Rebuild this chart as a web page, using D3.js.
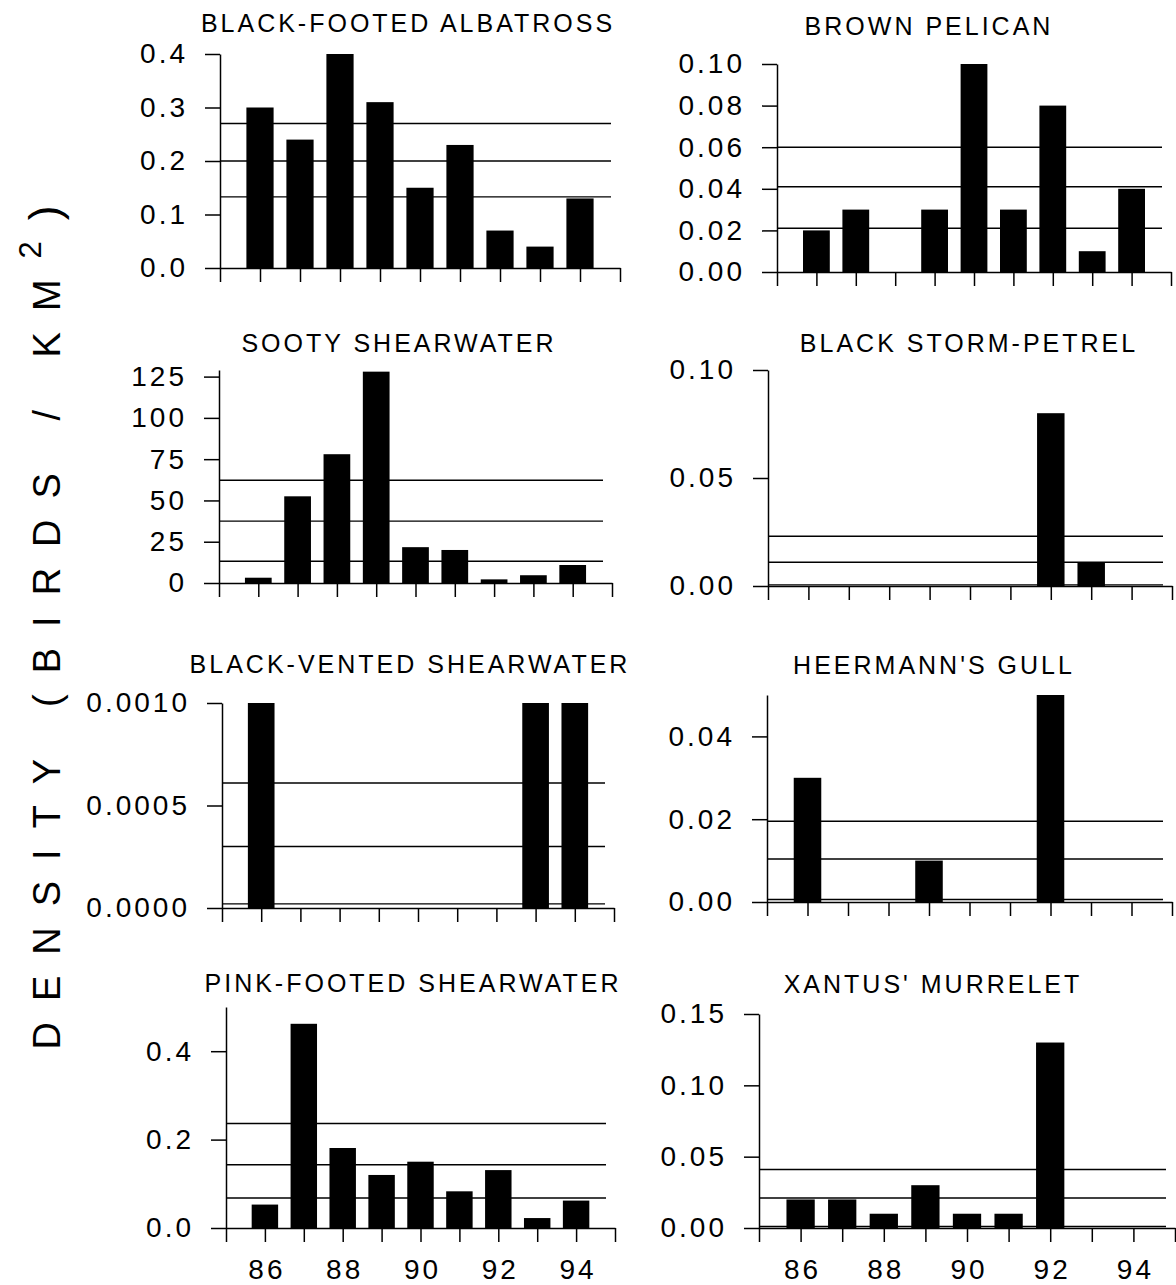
<!DOCTYPE html>
<html>
<head>
<meta charset="utf-8">
<script src="https://cdn.jsdelivr.net/npm/d3@7"></script>
<style>
  body { margin: 0; background: #fff; }
  svg { display: block; font-family: 'Liberation Sans', Arial, sans-serif; }
</style>
</head>
<body>
<script>
const WIDTH = 1176;
const HEIGHT = 1285;

// survey years (bars) and x ticks
const YEARS = [86, 87, 88, 89, 90, 91, 92, 93, 94];
const X_TICKS = [85, 86, 87, 88, 89, 90, 91, 92, 93, 94, 95];
const X_LABELS = [86, 88, 90, 92, 94];

// densities per year
const ALBATROSS = [0.30, 0.24, 0.40, 0.31, 0.15, 0.23, 0.07, 0.04, 0.13];
const PELICAN = [0.02, 0.03, 0.0, 0.03, 0.10, 0.03, 0.08, 0.01, 0.04];
const SOOTY = [3.2, 52.5, 78, 128, 21.7, 20, 2.2, 4.7, 10.9];
const STORM_PETREL = [0, 0, 0, 0, 0, 0, 0.08, 0.011, 0];
const BLACK_VENTED = [0.001, 0, 0, 0, 0, 0, 0, 0.001, 0.001];
const HEERMANN = [0.03, 0, 0, 0.01, 0, 0, 0.05, 0, 0];
const PINK_FOOTED = [0.053, 0.462, 0.181, 0.12, 0.15, 0.083, 0.131, 0.0225, 0.062];
const XANTUS = [0.02, 0.02, 0.01, 0.03, 0.01, 0.01, 0.13, 0, 0];

// horizontal reference lines
const ALBATROSS_REF = [0.27, 0.2, 0.133];
const PELICAN_REF = [0.06, 0.041, 0.021];
const SOOTY_REF = [62.2, 37.5, 13.2];
const STORM_PETREL_REF = [0.023, 0.011, 0.0005];
const BLACK_VENTED_REF = [0.00061, 0.0003, 0.00002];
const HEERMANN_REF = [0.0195, 0.0104, 0.0006];
const PINK_FOOTED_REF = [0.2365, 0.143, 0.068];
const XANTUS_REF = [0.041, 0.021, 0.001];

// y tick values
const ALBATROSS_TICKS = [0, 0.1, 0.2, 0.3, 0.4];
const PELICAN_TICKS = [0, 0.02, 0.04, 0.06, 0.08, 0.1];
const SOOTY_TICKS = [0, 25, 50, 75, 100, 125];
const STORM_PETREL_TICKS = [0, 0.05, 0.1];
const BLACK_VENTED_TICKS = [0, 0.0005, 0.001];
const HEERMANN_TICKS = [0, 0.02, 0.04];
const PINK_FOOTED_TICKS = [0, 0.2, 0.4];
const XANTUS_TICKS = [0, 0.05, 0.1, 0.15];

const panels = [
  {title: 'BLACK-FOOTED ALBATROSS', values: ALBATROSS, refs: ALBATROSS_REF, ticks: ALBATROSS_TICKS, yMax: 0.4, fmt: '.1f',
    x0: 220, x1: 620, yTop: 54, yBase: 268, tx: 408, ty: 32},
  {title: 'BROWN PELICAN', values: PELICAN, refs: PELICAN_REF, ticks: PELICAN_TICKS, yMax: 0.1, fmt: '.2f',
    x0: 777, x1: 1171, yTop: 64, yBase: 272, tx: 929, ty: 35},
  {title: 'SOOTY SHEARWATER', values: SOOTY, refs: SOOTY_REF, ticks: SOOTY_TICKS, yMax: 129, fmt: 'd',
    x0: 219, x1: 612, yTop: 370, yBase: 583, tx: 399, ty: 352},
  {title: 'BLACK STORM-PETREL', values: STORM_PETREL, refs: STORM_PETREL_REF, ticks: STORM_PETREL_TICKS, yMax: 0.1, fmt: '.2f',
    x0: 768, x1: 1172, yTop: 370, yBase: 586, tx: 969, ty: 352},
  {title: 'BLACK-VENTED SHEARWATER', values: BLACK_VENTED, refs: BLACK_VENTED_REF, ticks: BLACK_VENTED_TICKS, yMax: 0.001, fmt: '.4f',
    x0: 222, x1: 614, yTop: 703, yBase: 908, tx: 410, ty: 673},
  {title: "HEERMANN'S GULL", values: HEERMANN, refs: HEERMANN_REF, ticks: HEERMANN_TICKS, yMax: 0.05, fmt: '.2f',
    x0: 767, x1: 1172, yTop: 695, yBase: 902, tx: 934, ty: 674},
  {title: 'PINK-FOOTED SHEARWATER', values: PINK_FOOTED, refs: PINK_FOOTED_REF, ticks: PINK_FOOTED_TICKS, yMax: 0.5, fmt: '.1f',
    x0: 226, x1: 615, yTop: 1007, yBase: 1228, tx: 413, ty: 992, labels: true},
  {title: "XANTUS' MURRELET", values: XANTUS, refs: XANTUS_REF, ticks: XANTUS_TICKS, yMax: 0.15, fmt: '.2f',
    x0: 759, x1: 1175, yTop: 1014, yBase: 1228, tx: 933, ty: 993, labels: true},
];

const svg = d3.select('body').append('svg')
  .attr('width', WIDTH)
  .attr('height', HEIGHT);

function drawPanel(p) {
  const x = d3.scaleLinear().domain([85, 95]).range([p.x0, p.x1]);
  const y = d3.scaleLinear().domain([0, p.yMax]).range([p.yBase, p.yTop]);
  const bw = (x(86) - x(85)) * 0.68;

  const g = svg.append('g');

  g.selectAll('.ref')
    .data(p.refs)
    .join('line')
    .attr('class', 'ref')
    .attr('x1', p.x0)
    .attr('x2', p.x1 - 9)
    .attr('y1', (d) => y(d))
    .attr('y2', (d) => y(d))
    .attr('stroke', '#000')
    .attr('stroke-width', 1.4);

  g.selectAll('.bar')
    .data(p.values.map((v, i) => ({year: YEARS[i], v: v})))
    .join('rect')
    .attr('class', 'bar')
    .attr('x', (d) => x(d.year) - bw / 2)
    .attr('width', bw)
    .attr('y', (d) => y(d.v))
    .attr('height', (d) => y(0) - y(d.v))
    .attr('fill', '#000');

  const yAxis = g.append('g')
    .attr('transform', `translate(${p.x0}, 0)`)
    .call(d3.axisLeft(y)
      .tickValues(p.ticks)
      .tickFormat(d3.format(p.fmt))
      .tickSize(15)
      .tickSizeOuter(0)
      .tickPadding(17));

  const xAxis = g.append('g')
    .attr('transform', `translate(0, ${p.yBase})`)
    .call(d3.axisBottom(x)
      .tickValues(X_TICKS)
      .tickFormat((d) => (p.labels && X_LABELS.includes(d) ? d : ''))
      .tickSize(14)
      .tickSizeOuter(0)
      .tickPadding(17));

  [yAxis, xAxis].forEach((a) => {
    a.attr('font-family', null).attr('font-size', null);
    a.selectAll('path, line').attr('stroke', '#000').attr('stroke-width', 1.5);
    a.selectAll('text')
      .attr('fill', '#000')
      .style('font-size', '28px')
      .style('letter-spacing', '3px');
  });
  xAxis.selectAll('text').attr('dx', '1.5');

  g.append('text')
    .attr('x', p.tx)
    .attr('y', p.ty)
    .attr('text-anchor', 'middle')
    .style('font-size', '25px')
    .style('letter-spacing', '3px')
    .text(p.title);
}

panels.forEach(drawPanel);

// big rotated y label
const yTitle = svg.append('text')
  .attr('transform', 'translate(60, 617) rotate(-90)')
  .attr('text-anchor', 'middle')
  .style('font-size', '38px');
yTitle.append('tspan').text('DENSITY (BIRDS / KM');
yTitle.append('tspan').attr('dy', -19).style('font-size', '31px').text('2');
yTitle.append('tspan').attr('dy', 19).style('font-size', '44px').text(')');

const natural = yTitle.node().getComputedTextLength();
yTitle.style('letter-spacing', `${(865 - natural) / 21}px`);
</script>
</body>
</html>
